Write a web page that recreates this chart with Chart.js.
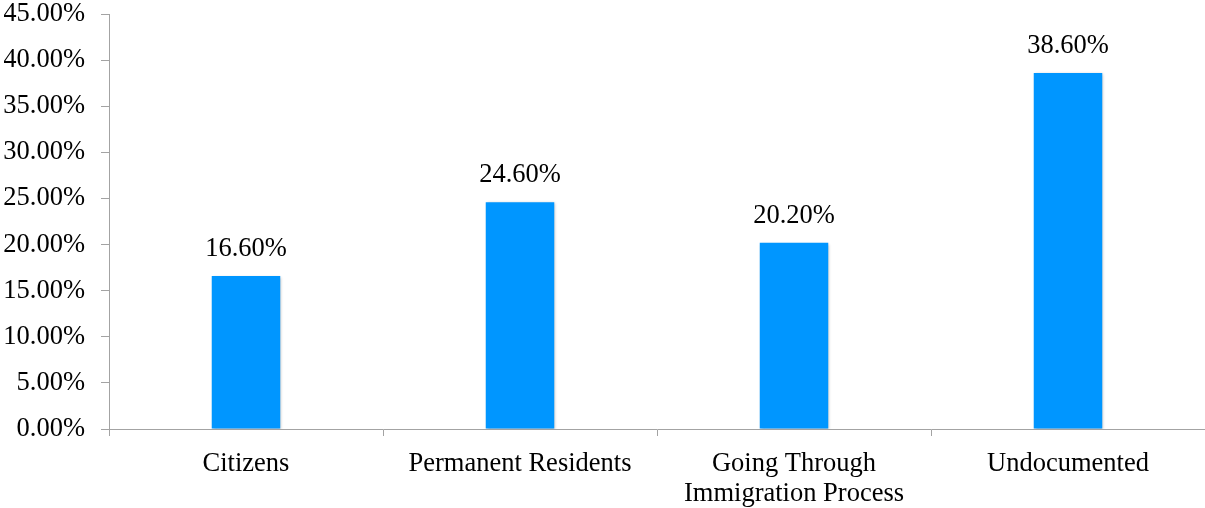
<!DOCTYPE html>
<html>
<head>
<meta charset="utf-8">
<script src="https://cdn.jsdelivr.net/npm/chart.js@4/dist/chart.umd.min.js"></script>
<style>
  html, body { margin: 0; padding: 0; background: #fff; }
  #wrap { width: 1205px; height: 508px; position: relative; }
</style>
</head>
<body>
<div id="wrap"><canvas id="chart"></canvas></div>
<script>
const categories = ["Citizens", "Permanent Residents", ["Going Through", "Immigration Process"], "Undocumented"];
const shares = [16.6, 24.6, 20.2, 38.6];
const yTicks = [0, 5, 10, 15, 20, 25, 30, 35, 40, 45];

const FONT = "'Liberation Serif', 'Times New Roman', serif";
const FONT_SIZE = 26.5;
const AXIS_COLOR = '#a3a3a3';
const BAR_COLOR = '#0096ff';

// sombra suave en las barras
const barShadow = {
    id: 'barShadow',
    beforeDatasetsDraw(chart) {
        const ctx = chart.ctx;
        ctx.save();
        ctx.shadowColor = 'rgba(0, 0, 0, 0.28)';
        ctx.shadowBlur = 3;
        ctx.shadowOffsetX = 1;
        ctx.shadowOffsetY = 1;
    },
    afterDatasetsDraw(chart) {
        chart.ctx.restore();
    }
};

// etiquetas de valor encima de cada barra
const valueLabels = {
    id: 'valueLabels',
    afterDatasetsDraw(chart) {
        const ctx = chart.ctx;
        const meta = chart.getDatasetMeta(0);
        ctx.save();
        ctx.font = FONT_SIZE + 'px ' + FONT;
        ctx.fillStyle = '#000';
        ctx.textAlign = 'center';
        ctx.textBaseline = 'alphabetic';
        meta.data.forEach((bar, i) => {
            ctx.fillText(shares[i].toFixed(2) + '%', bar.x, bar.y - 20);
        });
        ctx.restore();
    }
};

new Chart(document.getElementById('chart'), {
    type: 'bar',
    data: {
        labels: categories,
        datasets: [{
            data: shares,
            backgroundColor: BAR_COLOR,
            borderWidth: 0,
            categoryPercentage: 1,
            barPercentage: 0.25
        }]
    },
    options: {
        responsive: true,
        maintainAspectRatio: false,
        animation: false,
        events: [],
        layout: { padding: { top: 0, left: 4, right: 0, bottom: 0 } },
        plugins: {
            legend: { display: false },
            tooltip: { enabled: false }
        },
        scales: {
            x: {
                afterFit(scale) {
                    // alto fijo del eje: marcas + dos líneas de texto
                    scale.height = 79;
                },
                grid: {
                    display: true,
                    drawOnChartArea: false,
                    drawTicks: true,
                    tickLength: 7,
                    color: AXIS_COLOR,
                    offset: true
                },
                border: { display: true, color: AXIS_COLOR, width: 1 },
                ticks: {
                    color: '#000',
                    padding: 13,
                    maxRotation: 0,
                    autoSkip: false,
                    font: { family: FONT, size: FONT_SIZE, lineHeight: 1.13 }
                }
            },
            y: {
                min: yTicks[0],
                max: yTicks[yTicks.length - 1],
                afterBuildTicks(scale) {
                    scale.ticks = yTicks.map(v => ({ value: v }));
                },
                afterFit(scale) {
                    scale.width = 105;
                    scale.paddingTop = 14;
                    scale.paddingBottom = 0;
                },
                grid: {
                    display: true,
                    drawOnChartArea: false,
                    drawTicks: true,
                    tickLength: 8,
                    color: AXIS_COLOR
                },
                border: { display: true, color: AXIS_COLOR, width: 1 },
                ticks: {
                    color: '#000',
                    padding: 16,
                    font: { family: FONT, size: FONT_SIZE, lineHeight: 1 },
                    callback: function(value) {
                        return Number(value).toFixed(2) + '%';
                    }
                }
            }
        }
    },
    plugins: [barShadow, valueLabels]
});
</script>
</body>
</html>
